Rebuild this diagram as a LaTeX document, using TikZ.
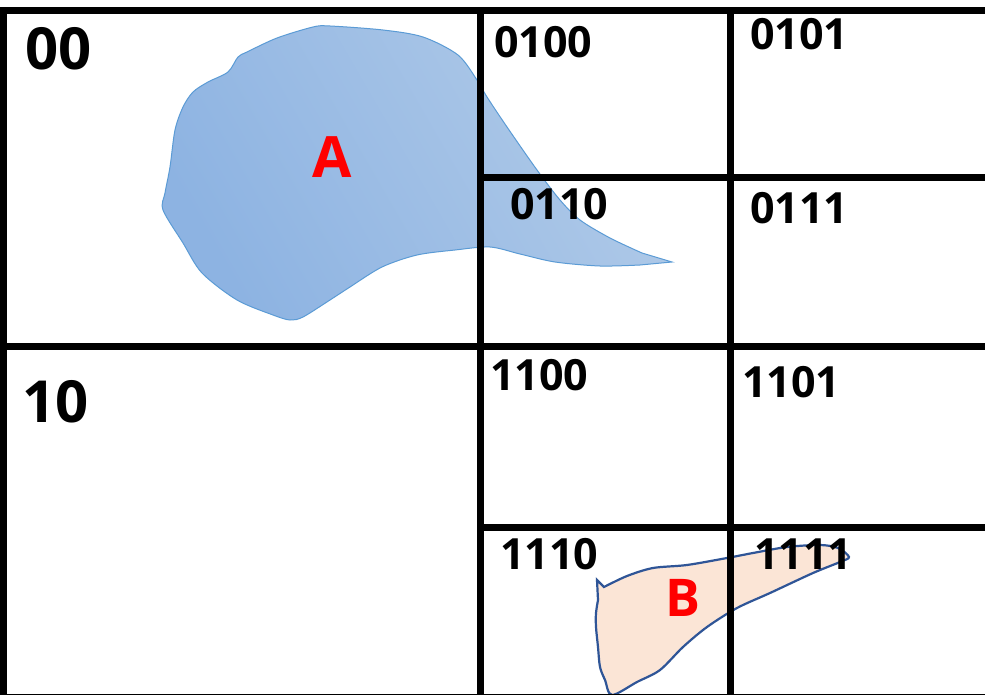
\documentclass[tikz,border=0pt]{standalone}
\usepackage{fontspec}
\setmainfont{Open Sans}
\definecolor{adark}{HTML}{8DB3E2}
\definecolor{alight}{HTML}{B0CAE8}
\definecolor{aline}{HTML}{5B9BD5}
\definecolor{bfill}{HTML}{FBE5D6}
\definecolor{bline}{HTML}{2F5597}
\tikzset{
  gridline/.style={line width=7pt, black},
  big/.style={anchor=base west, inner sep=0pt, font=\fontsize{58}{58}\selectfont\bfseries},
  code/.style={anchor=base west, inner sep=0pt, font=\fontsize{43}{43}\selectfont\bfseries},
  region/.style={anchor=base, inner sep=0pt, text=red, font=\fontsize{#1}{#1}\selectfont\bfseries},
}
\begin{document}
\begin{tikzpicture}[x=1pt,y=-1pt]
\useasboundingbox (0,0) rectangle (985,695);
\clip (0,0) rectangle (985,695);
\fill[white] (0,0) rectangle (985,695);

% blob A
\shadedraw[left color=adark, right color=alight, shading angle=120, draw=aline, line width=1pt]
  (672,262) -- plot[smooth, tension=0.5] coordinates {(640,265) (600,266) (555,262) (520,254) (490,247) (455,250) (417,255) (382,267) (350,287) (330,300) (303,317) (290,320) (273,315) (237,300) (202,273) (183,243) (163,210) (165,193) (170,167) (175,130) (183,107) (193,92) (208,82) (228,72) (238,57) (247,52) (277,38) (313,27) (330,26) (383,30) (423,37) (458,55) (477,80) (487,97) (507,127) (537,170) (560,200) (580,220) (610,238) (642,253)} -- cycle;

% blob B
\filldraw[fill=bfill, draw=bline, line width=2.2pt]
  (597,580) -- plot[smooth, tension=0.5] coordinates {(604,587) (627,576) (653,568) (687,565) (727,558) (753,553) (787,547) (820,545) (838,548) (849,557) (840,562) (813,573) (770,593) (737,608) (707,627) (683,647) (660,670) (637,682) (612,695) (605,680) (600,667) (598,647) (596,627) (596,613) (598,600)} -- cycle;

% grid
\coordinate (tl) at (0,11);
\coordinate (tr) at (985,11);
\coordinate (ml) at (0,346.5);
\coordinate (mr) at (985,346.5);
\coordinate (v0t) at (3.5,7.5);
\coordinate (v0b) at (3.5,695);
\coordinate (v1t) at (480.5,7.5);
\coordinate (v1b) at (480.5,695);
\coordinate (v2t) at (730.5,7.5);
\coordinate (v2b) at (730.5,695);
\coordinate (h1l) at (480.5,178);
\coordinate (h1r) at (985,178);
\coordinate (h2l) at (480.5,527.5);
\coordinate (h2r) at (985,527.5);
\coordinate (bl) at (0,694.3);
\coordinate (br) at (985,694.3);
\draw[gridline] (tl) -- (tr);
\draw[gridline] (ml) -- (mr);
\draw[gridline] (v0t) -- (v0b);
\draw[gridline] (v1t) -- (v1b);
\draw[gridline] (v2t) -- (v2b);
\draw[gridline] (h1l) -- (h1r);
\draw[gridline] (h2l) -- (h2r);
\draw[line width=1.5pt] (bl) -- (br);

% labels
\node[big] (c00) at (25,70) {00};
\node[big] (c10) at (22,422) {10};
\node[code] (c0100) at (494,58) {0100};
\node[code] (c0101) at (750,50) {0101};
\node[code] (c0110) at (510,219) {0110};
\node[code] (c0111) at (750,224) {0111};
\node[code] (c1100) at (490,390) {1100};
\node[code] (c1101) at (742,397) {1101};
\node[code] (c1110) at (500,569) {1110};
\node[code] (c1111) at (754,569) {1111};
\node[region=57] (la) at (332,178) {A};
\node[region=52] (lb) at (683,616) {B};
\end{tikzpicture}
\end{document}
